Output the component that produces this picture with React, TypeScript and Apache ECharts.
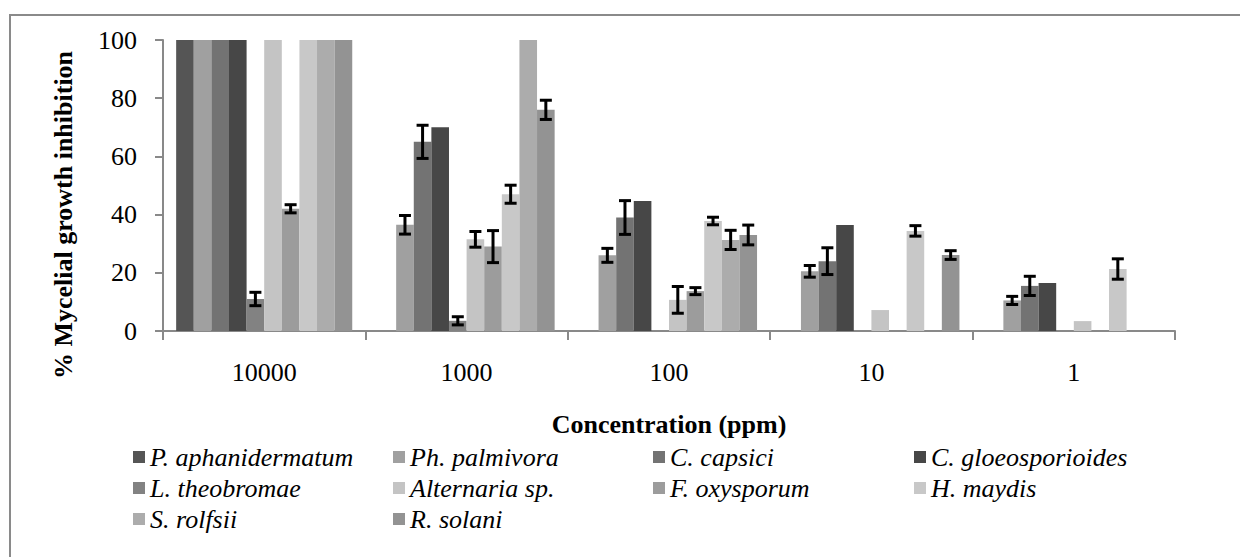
import React, { useEffect, useRef } from "react";
import * as echarts from "echarts";

const categories = ["10000", "1000", "100", "10", "1"];

const fungi = [
  "P. aphanidermatum",
  "Ph. palmivora",
  "C. capsici",
  "C. gloeosporioides",
  "L. theobromae",
  "Alternaria sp.",
  "F. oxysporum",
  "H. maydis",
  "S. rolfsii",
  "R. solani",
];

const colors = [
  "#555555",
  "#a0a0a0",
  "#737373",
  "#474747",
  "#828282",
  "#c4c4c4",
  "#9c9c9c",
  "#c8c8c8",
  "#acacac",
  "#939393",
];

const pAphanidermatum = [100, 0, 0, 0, 0];
const phPalmivora = [100, 36.5, 26, 20.5, 10.5];
const cCapsici = [100, 65, 39, 24, 15.5];
const cGloeosporioides = [100, 70, 44.7, 36.4, 16.5];
const lTheobromae = [11, 3.5, 0, 0, 0];
const alternaria = [100, 31.5, 10.7, 7.2, 3.4];
const fOxysporum = [42, 29, 13.7, 0, 0];
const hMaydis = [100, 47, 37.8, 34.4, 21.3];
const sRolfsii = [100, 100, 31.3, 0, 0];
const rSolani = [100, 76, 33, 26.1, 0];

const errPAphanidermatum = [null, null, null, null, null];
const errPhPalmivora = [null, 3.2, 2.4, 2, 1.4];
const errCCapsici = [null, 5.7, 5.8, 4.6, 3.3];
const errCGloeosporioides = [null, null, null, null, null];
const errLTheobromae = [2.3, 1.4, null, null, null];
const errAlternaria = [null, 2.7, 4.6, null, null];
const errFOxysporum = [1.4, 5.5, 1.2, null, null];
const errHMaydis = [null, 3.1, 1.3, 1.8, 3.5];
const errSRolfsii = [null, null, 3.3, null, null];
const errRSolani = [null, 3.3, 3.4, 1.5, null];

const yTicks = { min: 0, max: 100, interval: 20 };
const yAxisTitle = "% Mycelial growth inhibition";
const xAxisTitle = "Concentration (ppm)";

const values = [
  pAphanidermatum, phPalmivora, cCapsici, cGloeosporioides, lTheobromae,
  alternaria, fOxysporum, hMaydis, sRolfsii, rSolani,
];
const errors = [
  errPAphanidermatum, errPhPalmivora, errCCapsici, errCGloeosporioides, errLTheobromae,
  errAlternaria, errFOxysporum, errHMaydis, errSRolfsii, errRSolani,
];

const legendColumns = [
  [0, 4, 8],
  [1, 5, 9],
  [2, 6],
  [3, 7],
];
const legendLefts = [133, 393, 653, 914];

const FONT = "Liberation Serif";
const GAP = 0.13;

export default function App() {
  const ref = useRef<HTMLDivElement>(null);
  useEffect(() => {
    if (!ref.current) return;
    const chart = echarts.init(ref.current, null, { renderer: "svg" });
    const n = fungi.length;

    const barSeries = fungi.map((name, i) => ({
      name,
      type: "bar",
      data: values[i],
      barGap: "0%",
      barCategoryGap: GAP * 100 + "%",
      itemStyle: { color: colors[i] },
      z: 2,
    }));

    const errSeries = fungi.map((name, i) => ({
      type: "custom",
      name: "err-" + name,
      z: 5,
      data: values[i]
        .map((v, c) => (errors[i][c] == null ? null : [c, v, errors[i][c]]))
        .filter((d) => d !== null),
      renderItem: (params: any, api: any) => {
        const c = api.value(0);
        const v = api.value(1);
        const e = api.value(2);
        const band = api.size([1, 0])[0];
        const area = band * (1 - GAP);
        const bw = area / n;
        const center = api.coord([c, v]);
        const x = center[0] - area / 2 + (i + 0.5) * bw;
        const yT = api.coord([c, v + e])[1];
        const yB = api.coord([c, v - e])[1];
        const hw = 6;
        const style = { stroke: "#000", lineWidth: 3 };
        return {
          type: "group",
          children: [
            { type: "line", shape: { x1: x, y1: yT, x2: x, y2: yB }, style },
            { type: "line", shape: { x1: x - hw, y1: yT, x2: x + hw, y2: yT }, style },
            { type: "line", shape: { x1: x - hw, y1: yB, x2: x + hw, y2: yB }, style },
          ],
        };
      },
    }));

    const legends = legendColumns.map((col, k) => ({
      orient: "vertical",
      left: legendLefts[k],
      top: 444,
      itemWidth: 12,
      itemHeight: 12,
      itemGap: 5,
      icon: "rect",
      padding: 0,
      data: col.map((idx) => fungi[idx]),
      textStyle: {
        fontFamily: FONT,
        fontStyle: "italic",
        fontSize: 26,
        lineHeight: 26,
        color: "#000",
      },
      selectedMode: false,
    }));

    chart.setOption({
      animation: false,
      backgroundColor: "#fff",
      color: colors,
      textStyle: { fontFamily: FONT },
      grid: { left: 163, right: 65, top: 40, bottom: 226, containLabel: false },
      legend: legends,
      xAxis: {
        type: "category",
        data: categories,
        name: xAxisTitle,
        nameLocation: "middle",
        nameGap: 80,
        nameTextStyle: { fontFamily: FONT, fontWeight: "bold", fontSize: 26, color: "#000" },
        axisLine: { lineStyle: { color: "#898989", width: 2 } },
        axisTick: { show: true, length: 9, lineStyle: { color: "#898989", width: 2 } },
        axisLabel: { fontFamily: FONT, fontSize: 26, color: "#000", margin: 28 },
      },
      yAxis: {
        type: "value",
        min: yTicks.min,
        max: yTicks.max,
        interval: yTicks.interval,
        axisLine: { show: true, lineStyle: { color: "#898989", width: 2 } },
        axisTick: { show: true, length: 8, lineStyle: { color: "#898989", width: 2 } },
        axisLabel: { fontFamily: FONT, fontSize: 26, color: "#000", margin: 26 },
        splitLine: { show: false },
      },
      graphic: [
        {
          type: "rect",
          shape: { x: 10, y: 15, width: 1260, height: 580 },
          style: { fill: "none", stroke: "#8a8a8a", lineWidth: 2 },
          silent: true,
          z: -1,
        },
        {
          type: "text",
          x: 63,
          y: 215,
          rotation: Math.PI / 2,
          style: {
            text: yAxisTitle,
            fontFamily: FONT,
            fontWeight: "bold",
            fontSize: 26,
            fill: "#000",
            align: "center",
            verticalAlign: "middle",
          },
          silent: true,
        },
      ],
      series: [...barSeries, ...errSeries],
    });
    return () => chart.dispose();
  }, []);
  return (
    <div
      ref={ref}
      style={{ position: "fixed", left: 0, top: 0, width: 1240, height: 557 }}
    />
  );
}
